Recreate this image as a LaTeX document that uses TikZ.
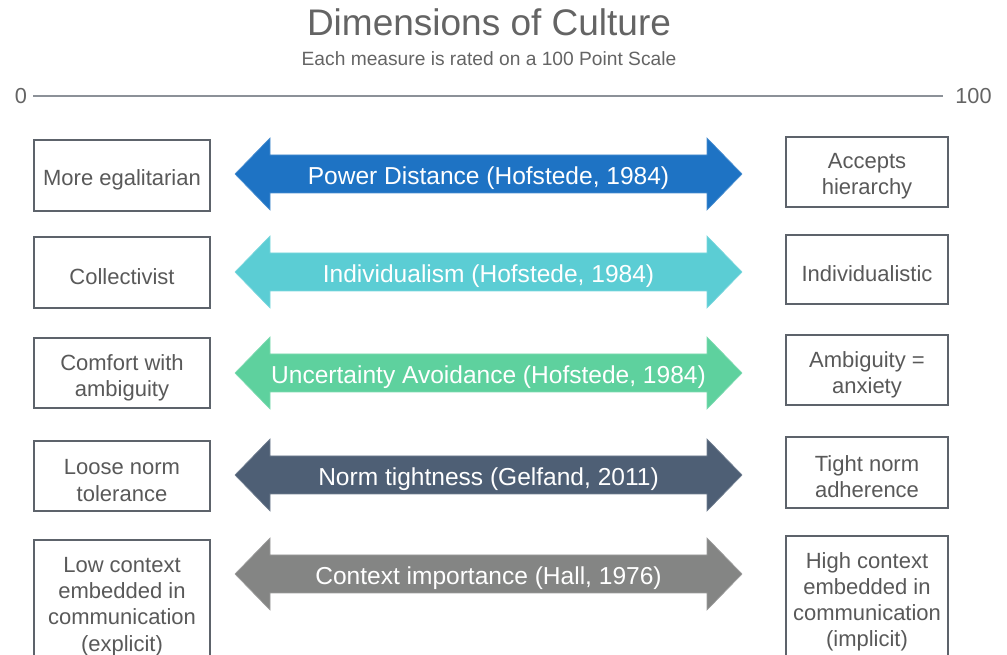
\documentclass[tikz,border=0pt]{standalone}
\usepackage{fontspec}
\setmainfont{Liberation Sans}
\definecolor{titlegray}{HTML}{646464}
\definecolor{boxtext}{HTML}{595959}
\definecolor{boxline}{HTML}{5D636B}
\definecolor{axisgray}{HTML}{8C9198}
\definecolor{pdblue}{HTML}{1E73C4}
\definecolor{indcyan}{HTML}{5BCDD4}
\definecolor{uagreen}{HTML}{5ED19E}
\definecolor{normslate}{HTML}{4E5F75}
\definecolor{ctxgray}{HTML}{848584}

% double-headed band arrow with its label: name, row y, colour, text
\newcommand\dimarrow[4]{%
  \fill[#3,draw=#3!80!white,line width=0.5pt]
    (235,#2) -- (270,{#2-36}) -- (270,{#2-19}) -- (707,{#2-19}) -- (707,{#2-36})
    -- (742,#2) -- (707,{#2+36}) -- (707,{#2+19}) -- (270,{#2+19}) -- (270,{#2+36}) -- cycle;
  \node[arrowtext] (#1) at (488.5,{#2+4}) {#4};
}

% outlined pole box with its text: name, box style, x, y, height, text
\newcommand\polebox[6]{%
  \node[#2,minimum height=#5] (#1) at (#3,#4) {};
  \node[poletext] (#1t) at ([yshift=-3.4pt]#1.center) {#6};
}

\begin{document}
\begin{tikzpicture}[x=0.75pt,y=-0.75pt,
  sidebox/.style={draw=boxline,line width=1.1pt,fill=white,inner sep=0pt},
  leftbox/.style={sidebox,minimum width=132pt},
  rightbox/.style={sidebox,minimum width=121.5pt},
  poletext/.style={align=center,inner sep=0pt,text=boxtext,
    font=\fontsize{16.5}{19.6}\selectfont},
  arrowtext/.style={text=white,inner sep=0pt,font=\fontsize{18.4}{22}\selectfont},
  scalelabel/.style={text=titlegray,inner sep=0pt,font=\fontsize{16.3}{18}\selectfont},
  axisline/.style={draw=axisgray,line width=1.5pt}]

\useasboundingbox (0,0) rectangle (1007,655);
\clip (0,0) rectangle (1007,655);

% heading
\node[text=titlegray,inner sep=0pt,font=\fontsize{27.75}{33}\selectfont] (title) at (489,22.5) {Dimensions of Culture};
\node[text=titlegray,inner sep=0pt,font=\fontsize{14.4}{16}\selectfont] (subtitle) at (489,58.5) {Each measure is rated on a 100 Point Scale};

% 0 -- 100 scale
\node[scalelabel] (zero) at (21,96.5) {0};
\node[scalelabel] (hundred) at (973.5,96.5) {100};
\coordinate (axl) at (33,96);
\coordinate (axr) at (943,96);
\draw[axisline] (axl) -- (axr);

% left-hand poles
\polebox{l1}{leftbox}{122}{175.5}{53.25pt}{More egalitarian}
\polebox{l2}{leftbox}{122}{272.5}{53.25pt}{Collectivist}
\polebox{l3}{leftbox}{122}{373}{52.5pt}{Comfort with\\ambiguity}
\polebox{l4}{leftbox}{122}{476}{52.5pt}{Loose norm\\tolerance}
\polebox{l5}{leftbox}{122}{602}{93pt}{Low context\\embedded in\\communication\\(explicit)}

% right-hand poles
\polebox{r1}{rightbox}{867}{172}{52.5pt}{Accepts\\hierarchy}
\polebox{r2}{rightbox}{867}{269.5}{51.75pt}{Individualistic}
\polebox{r3}{rightbox}{867}{370}{52.5pt}{Ambiguity =\\anxiety}
\polebox{r4}{rightbox}{867}{472.5}{53.25pt}{Tight norm\\adherence}
\polebox{r5}{rightbox}{867}{597}{91.5pt}{High context\\embedded in\\communication\\(implicit)}

% dimensions
\dimarrow{a1}{174}{pdblue}{Power Distance (Hofstede, 1984)}
\dimarrow{a2}{272}{indcyan}{Individualism (Hofstede, 1984)}
\dimarrow{a3}{373}{uagreen}{Uncertainty Avoidance (Hofstede, 1984)}
\dimarrow{a4}{475}{normslate}{Norm tightness (Gelfand, 2011)}
\dimarrow{a5}{574}{ctxgray}{Context importance (Hall, 1976)}

\end{tikzpicture}
\end{document}
